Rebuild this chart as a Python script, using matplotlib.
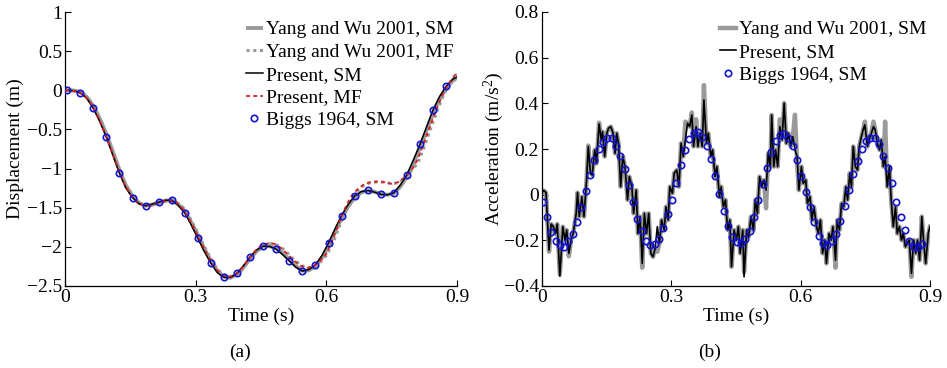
import numpy as np
import matplotlib
matplotlib.use("Agg")
import matplotlib.pyplot as plt
from matplotlib.ticker import FuncFormatter

plt.rcParams['font.family'] = ['Liberation Serif', 'DejaVu Serif']
plt.rcParams['mathtext.fontset'] = 'custom'
plt.rcParams['mathtext.rm'] = 'Liberation Serif'
plt.rcParams['mathtext.it'] = 'Liberation Serif:italic'
plt.rcParams['axes.unicode_minus'] = True

# ---------------- (a) displacement ----------------
disp_t = [0, 0.005, 0.02, 0.035, 0.05, 0.065, 0.08, 0.095, 0.11, 0.125, 0.14, 0.155, 0.17, 0.185, 0.2,
          0.215, 0.23, 0.245, 0.26, 0.275, 0.29, 0.305, 0.32, 0.335, 0.35, 0.365, 0.38, 0.395, 0.41,
          0.425, 0.44, 0.455, 0.47, 0.485, 0.5, 0.515, 0.53, 0.545, 0.56, 0.575, 0.59, 0.605, 0.62,
          0.635, 0.65, 0.665, 0.68, 0.695, 0.71, 0.725, 0.74, 0.755, 0.77, 0.785, 0.8, 0.815, 0.83,
          0.845, 0.86, 0.875, 0.89, 0.9]
disp_present_sm = [0.0, 0.0, -0.005, -0.03, -0.10, -0.23, -0.40, -0.60, -0.83, -1.06, -1.25, -1.37, -1.45,
                   -1.475, -1.455, -1.43, -1.405, -1.405, -1.47, -1.565, -1.72, -1.89, -2.06, -2.21, -2.33,
                   -2.39, -2.39, -2.34, -2.24, -2.13, -2.04, -1.99, -1.995, -2.03, -2.10, -2.18, -2.26,
                   -2.31, -2.29, -2.23, -2.11, -1.95, -1.77, -1.60, -1.46, -1.35, -1.295, -1.28, -1.30,
                   -1.33, -1.335, -1.31, -1.21, -1.08, -0.89, -0.69, -0.47, -0.25, -0.08, 0.05, 0.14, 0.17]
disp_yang_sm = [0.0, 0.0, -0.003, -0.02, -0.085, -0.20, -0.365, -0.56, -0.785, -1.02, -1.22, -1.35, -1.44,
                -1.475, -1.46, -1.435, -1.41, -1.40, -1.455, -1.545, -1.69, -1.855, -2.03, -2.18, -2.31,
                -2.38, -2.395, -2.35, -2.26, -2.15, -2.055, -1.995, -1.99, -2.02, -2.085, -2.165, -2.245,
                -2.305, -2.30, -2.245, -2.14, -1.985, -1.805, -1.635, -1.485, -1.37, -1.305, -1.28, -1.295,
                -1.325, -1.335, -1.32, -1.23, -1.105, -0.93, -0.73, -0.515, -0.29, -0.11, 0.025, 0.12, 0.16]

mf_t = np.linspace(0, 0.9, 61)
disp_present_mf = [0.0, -0.003, -0.02, -0.07, -0.17, -0.33, -0.52, -0.74, -0.97, -1.18,
                   -1.33, -1.43, -1.47, -1.475, -1.45, -1.42, -1.41, -1.43, -1.51, -1.64,
                   -1.80, -1.97, -2.13, -2.27, -2.36, -2.385, -2.36, -2.28, -2.17, -2.06,
                   -1.99, -1.955, -1.96, -2.01, -2.09, -2.17, -2.24, -2.27, -2.25, -2.18,
                   -2.09, -1.90, -1.68, -1.48, -1.33, -1.245, -1.19, -1.17, -1.165, -1.175,
                   -1.195, -1.175, -1.11, -1.03, -0.88, -0.66, -0.43, -0.21, -0.02, 0.12, 0.23]
disp_yang_mf = [0.0, -0.002, -0.015, -0.06, -0.15, -0.30, -0.49, -0.71, -0.94, -1.15,
                -1.31, -1.42, -1.465, -1.475, -1.455, -1.425, -1.41, -1.425, -1.49, -1.61,
                -1.77, -1.94, -2.10, -2.245, -2.345, -2.385, -2.37, -2.30, -2.19, -2.08,
                -2.005, -1.96, -1.955, -2.0, -2.075, -2.16, -2.23, -2.27, -2.26, -2.20,
                -2.11, -1.95, -1.74, -1.53, -1.37, -1.26, -1.20, -1.175, -1.17, -1.175,
                -1.195, -1.18, -1.12, -1.03, -0.93, -0.72, -0.48, -0.25, -0.05, 0.10, 0.21]

biggs_disp_t = np.arange(30) * 0.03 + 0.005
biggs_disp = [0.0, -0.03, -0.23, -0.60, -1.06, -1.37, -1.475, -1.43, -1.405, -1.565,
              -1.89, -2.21, -2.39, -2.34, -2.13, -1.99, -2.03, -2.18, -2.31, -2.23,
              -1.95, -1.60, -1.35, -1.28, -1.33, -1.31, -1.08, -0.69, -0.25, 0.05]

# ---------------- (b) acceleration ----------------
acc_t = [0.000, 0.005, 0.010, 0.017, 0.022, 0.027, 0.032, 0.036, 0.042, 0.049,
         0.054, 0.058, 0.063, 0.068, 0.073, 0.080, 0.083, 0.087, 0.093, 0.098,
         0.104, 0.108, 0.113, 0.117, 0.123, 0.127, 0.133, 0.138, 0.141, 0.146,
         0.151, 0.155, 0.160, 0.165, 0.170, 0.174, 0.178, 0.183, 0.188, 0.193,
         0.199, 0.203, 0.209, 0.213, 0.219, 0.223, 0.228, 0.233, 0.238, 0.243,
         0.248, 0.253, 0.258, 0.263, 0.268, 0.273, 0.278, 0.284, 0.288, 0.293,
         0.297, 0.303, 0.307, 0.313, 0.318, 0.323, 0.328, 0.333, 0.338, 0.343,
         0.348, 0.352, 0.358, 0.362, 0.367, 0.372, 0.376, 0.382, 0.386, 0.392,
         0.396, 0.402, 0.406, 0.412, 0.416, 0.421, 0.426, 0.431, 0.436, 0.440,
         0.446, 0.451, 0.456, 0.460, 0.466, 0.469, 0.475, 0.480, 0.485, 0.491,
         0.495, 0.500, 0.505, 0.510, 0.515, 0.520, 0.525, 0.530, 0.533, 0.538,
         0.542, 0.547, 0.552, 0.557, 0.562, 0.567, 0.572, 0.577, 0.582, 0.587,
         0.592, 0.596, 0.602, 0.606, 0.612, 0.616, 0.622, 0.626, 0.631, 0.637,
         0.641, 0.646, 0.651, 0.656, 0.660, 0.666, 0.671, 0.675, 0.681, 0.685,
         0.690, 0.695, 0.700, 0.705, 0.709, 0.714, 0.718, 0.722, 0.727, 0.732,
         0.736, 0.741, 0.745, 0.749, 0.755, 0.759, 0.764, 0.769, 0.773, 0.778,
         0.783, 0.787, 0.792, 0.796, 0.801, 0.806, 0.810, 0.815, 0.820, 0.824,
         0.829, 0.834, 0.838, 0.843, 0.847, 0.852, 0.857, 0.862, 0.867, 0.871,
         0.876, 0.881, 0.885, 0.890, 0.896, 0.900]
acc_present_sm = [0.009, 0.018, 0.009, -0.243, -0.129, -0.140, -0.170, -0.129, -0.357, -0.140,
                  -0.199, -0.155, -0.257, -0.199, -0.170, -0.082, 0.009, -0.096, -0.009, -0.096,
                  0.064, 0.211, 0.094, 0.086, 0.196, 0.137, 0.310, 0.240, 0.276, 0.167,
                  0.269, 0.291, 0.298, 0.272, 0.181, 0.269, 0.225, 0.035, 0.167, 0.123,
                  -0.023, 0.079, 0.035, -0.082, 0.020, -0.170, -0.096, -0.301, -0.082, -0.170,
                  -0.082, -0.257, -0.272, -0.235, -0.140, -0.213, -0.111, -0.155, -0.053, -0.111,
                  0.035, 0.006, 0.094, 0.108, 0.035, 0.225, 0.167, 0.240, 0.313, 0.298,
                  0.349, 0.211, 0.298, 0.211, 0.269, 0.211, 0.415, 0.225, 0.269, 0.167,
                  0.196, 0.079, 0.123, -0.009, 0.035, -0.053, -0.023, -0.155, -0.111, -0.316,
                  -0.155, -0.199, -0.140, -0.257, -0.155, -0.360, -0.155, -0.184, -0.096, -0.155,
                  -0.023, -0.082, 0.079, 0.035, 0.064, 0.020, 0.181, 0.123, 0.349, 0.123,
                  0.196, 0.123, 0.298, 0.240, 0.401, 0.225, 0.269, 0.211, 0.254, 0.196,
                  0.167, 0.020, 0.123, 0.050, 0.064, -0.038, -0.009, -0.111, -0.053, -0.140,
                  -0.170, -0.111, -0.257, -0.199, -0.301, -0.170, -0.199, -0.140, -0.287, -0.111,
                  -0.155, -0.038, -0.053, 0.035, -0.023, 0.094, 0.035, 0.211, 0.123, 0.108,
                  0.211, 0.254, 0.284, 0.306, 0.211, 0.240, 0.269, 0.298, 0.284, 0.225,
                  0.196, 0.240, 0.123, 0.167, 0.035, 0.123, -0.023, -0.140, -0.053, -0.170,
                  -0.140, -0.199, -0.170, -0.228, -0.213, -0.199, -0.345, -0.199, -0.257, -0.199,
                  -0.287, -0.096, -0.199, -0.301, -0.170, -0.140]
acc_yang_sm = [0.009, 0.018, 0.009, -0.250, -0.129, -0.140, -0.170, -0.129, -0.350, -0.140,
               -0.199, -0.155, -0.270, -0.199, -0.170, -0.082, 0.009, -0.096, -0.009, -0.096,
               0.064, 0.215, 0.094, 0.086, 0.196, 0.137, 0.315, 0.240, 0.276, 0.167,
               0.269, 0.291, 0.298, 0.272, 0.181, 0.269, 0.225, 0.035, 0.167, 0.123,
               -0.023, 0.079, 0.035, -0.082, 0.020, -0.170, -0.096, -0.320, -0.082, -0.170,
               -0.082, -0.257, -0.272, -0.235, -0.250, -0.213, -0.111, -0.155, -0.053, -0.111,
               0.035, 0.006, 0.094, 0.108, 0.035, 0.225, 0.167, 0.320, 0.313, 0.298,
               0.360, 0.211, 0.330, 0.211, 0.269, 0.211, 0.480, 0.225, 0.269, 0.167,
               0.196, 0.079, 0.123, -0.009, 0.035, -0.053, -0.023, -0.155, -0.111, -0.316,
               -0.155, -0.199, -0.140, -0.257, -0.155, -0.340, -0.155, -0.184, -0.096, -0.155,
               -0.023, -0.082, 0.079, 0.035, 0.064, -0.060, 0.181, 0.123, 0.349, 0.123,
               0.196, 0.123, 0.330, 0.240, 0.401, 0.225, 0.269, 0.211, 0.254, 0.350,
               0.140, 0.020, 0.123, 0.050, 0.064, -0.038, -0.009, -0.111, -0.053, -0.140,
               -0.170, -0.111, -0.257, -0.199, -0.301, -0.170, -0.199, -0.140, -0.320, -0.111,
               -0.155, -0.038, -0.053, 0.035, -0.023, 0.094, 0.035, 0.211, 0.123, 0.108,
               0.211, 0.254, 0.284, 0.320, 0.211, 0.240, 0.269, 0.320, 0.284, 0.225,
               0.196, 0.240, 0.123, 0.320, 0.035, 0.123, -0.023, -0.140, -0.053, -0.170,
               -0.140, -0.199, -0.170, -0.228, -0.213, -0.199, -0.360, -0.199, -0.257, -0.199,
               -0.287, -0.096, -0.199, -0.301, -0.170, -0.140]

biggs_acc_t = np.arange(89) * 0.01 + 0.002
biggs_acc = [-0.031, -0.098, -0.162, -0.203, -0.219, -0.228, -0.203, -0.171, -0.118, -0.056,
             0.016, 0.088, 0.151, 0.199, 0.232, 0.250, 0.246, 0.213, 0.170, 0.113,
             0.041, -0.034, -0.105, -0.159, -0.205, -0.222, -0.218, -0.194, -0.146, -0.085,
             -0.023, 0.053, 0.129, 0.194, 0.243, 0.272, 0.275, 0.254, 0.215, 0.156,
             0.082, 0.003, -0.072, -0.136, -0.184, -0.209, -0.212, -0.196, -0.159, -0.098,
             -0.022, 0.045, 0.117, 0.187, 0.234, 0.260, 0.266, 0.250, 0.211, 0.151,
             0.080, 0.010, -0.056, -0.121, -0.183, -0.211, -0.219, -0.205, -0.173, -0.116,
             -0.048, 0.022, 0.091, 0.149, 0.199, 0.235, 0.249, 0.250, 0.224, 0.171,
             0.118, 0.051, -0.032, -0.099, -0.156, -0.203, -0.228, -0.230, -0.218]

time_ticks = [0, 0.3, 0.6, 0.9]
disp_ticks = [-2.5, -2, -1.5, -1, -0.5, 0, 0.5, 1]
acc_ticks = [-0.4, -0.2, 0, 0.2, 0.4, 0.6, 0.8]

GRAY = '#9a9a9a'
BLUE = '#1414d2'
RED = '#d42020'
FS = 14

fmt = FuncFormatter(lambda v, p: ('%g' % v).replace('-', '\u2212'))

fig = plt.figure(figsize=(9.47, 3.68), dpi=100)
H = 368.0
W = 947.0
ax1 = fig.add_axes([65 / W, 1 - 286 / H, (457 - 65) / W, (286 - 12) / H])
ax2 = fig.add_axes([541.7 / W, 1 - 286 / H, (930 - 541.7) / W, (286 - 12) / H])

for ax in (ax1, ax2):
    ax.spines['top'].set_visible(False)
    ax.spines['right'].set_visible(False)
    ax.spines['left'].set_linewidth(0.9)
    ax.spines['bottom'].set_linewidth(0.9)
    ax.tick_params(direction='in', length=4, width=0.8, labelsize=FS, pad=2)
    ax.set_xlim(0, 0.9)
    ax.set_xticks(time_ticks)
    ax.xaxis.set_major_formatter(fmt)
    ax.yaxis.set_major_formatter(fmt)
    ax.set_xlabel('Time (s)', fontsize=FS)
    ax.xaxis.set_label_coords(0.5, -0.08)

leg_kw = dict(loc='upper left', frameon=False, fontsize=FS, handlelength=0.85, handletextpad=0.15,
              labelspacing=0.26, borderpad=0, borderaxespad=0, numpoints=1)

# panel (a)
ax1.plot(disp_t, disp_yang_sm, color=GRAY, lw=2.8, solid_capstyle='butt', label='Yang and Wu 2001, SM', zorder=2)
ax1.plot(mf_t, disp_yang_mf, color=GRAY, lw=2.2, linestyle=(0, (1, 1.2)), label='Yang and Wu 2001, MF', zorder=2)
ax1.plot(disp_t, disp_present_sm, color='black', lw=1.1, label='Present, SM', zorder=3)
ax1.plot(mf_t, disp_present_mf, color=RED, lw=1.3, linestyle=(0, (2.2, 1.8)), label='Present, MF', zorder=4)
ax1.plot(biggs_disp_t, biggs_disp, linestyle='none', marker='o', ms=4.6, mfc='none', mec=BLUE, mew=1.2,
         label='Biggs 1964, SM', zorder=5)
ax1.set_ylim(-2.5, 1)
ax1.set_yticks(disp_ticks)
ax1.set_ylabel('Displacement (m)', fontsize=FS)
ax1.yaxis.set_label_coords(-0.105, 0.5)
ax1.legend(bbox_to_anchor=(0.462, 0.968), **leg_kw)

# panel (b)
ax2.plot(acc_t, acc_yang_sm, color=GRAY, lw=3.2, label='Yang and Wu 2001, SM', zorder=2)
ax2.plot(acc_t, acc_present_sm, color='black', lw=1.2, label='Present, SM', zorder=3)
ax2.plot(biggs_acc_t, biggs_acc, linestyle='none', marker='o', ms=4.6, mfc='none', mec=BLUE, mew=1.2,
         label='Biggs 1964, SM', zorder=5)
ax2.set_ylim(-0.4, 0.8)
ax2.set_yticks(acc_ticks)
ax2.set_ylabel('Acceleration (m/s$^2$)', fontsize=FS)
ax2.yaxis.set_label_coords(-0.092, 0.5)
ax2.legend(bbox_to_anchor=(0.458, 0.968), **leg_kw)

fig.text(240 / W, 1 - 352 / H, '(a)', ha='center', va='center', fontsize=FS)
fig.text(710 / W, 1 - 352 / H, '(b)', ha='center', va='center', fontsize=FS)

fig.savefig('out.png', dpi=100)
